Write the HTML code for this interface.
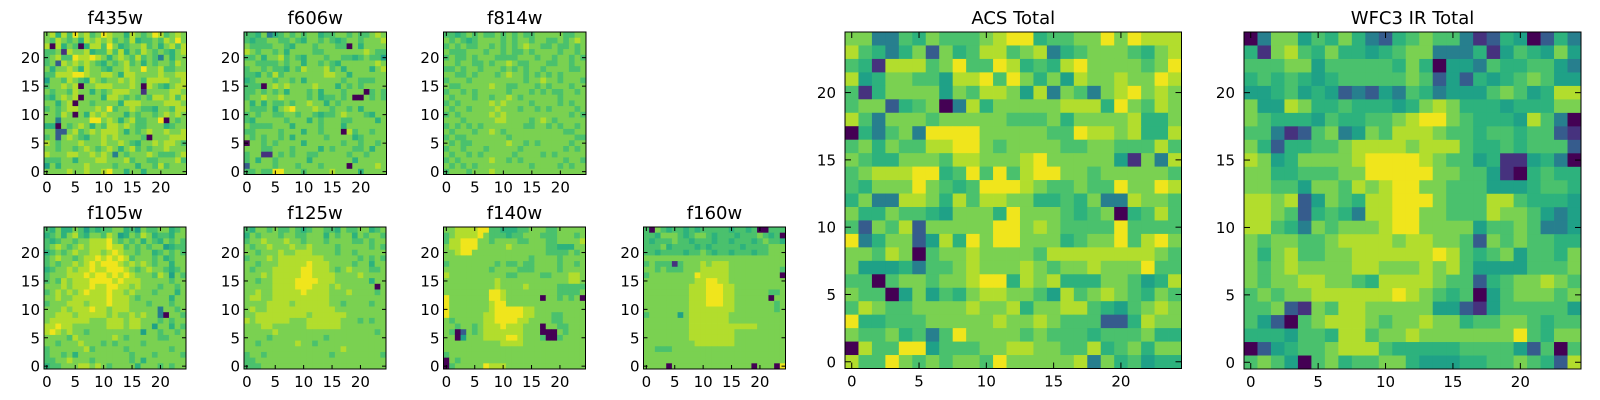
<!DOCTYPE html>
<html><head><meta charset="utf-8"><style>
html,body{margin:0;padding:0;background:#fff;width:1600px;height:400px;overflow:hidden}
svg{display:block}
text{font-family:"DejaVu Sans","Liberation Sans",sans-serif;fill:#000}
</style></head><body>
<svg id="fig" width="1600" height="400" xmlns="http://www.w3.org/2000/svg"></svg>
<script>
// Data: rows listed top (y=24) to bottom (y=0), digits 0-9 = relative intensity level
const panelTitles = ["f435w","f606w","f814w","f105w","f125w","f140w","f160w","ACS Total","WFC3 IR Total"];
const xTickLabels = [0,5,10,15,20];
const smallYTicks = [0,5,10,15,20];
const bigYTicks = [0,5,10,15,20];
const f435w = ["7858697867987758767986787","7687675878786768566768797","8085760588697567786757868","6671877856686857687676578","6786698898757876867637577","6728787876576786757677687","7577875877657787797786677","6688899877887588777787788","4776876587677878768888778","6778780778887778708765788","7677687757678887717777887","6578780777588767676887868","7757807767777588877778887","6767887778796778766577688","7768707587877757677678787","7737777799787578667790767","5507678757688787667775677","7722786787888757678778778","6727876577878777760777888","8767778777877876577878876","7767767876787578676778777","8777887787873767778766678","6667757778877786776677786","4757777877776777577686777","7777877877897757757777777"];
const f606w = ["6657356767677566776766787","6566776676577676567767778","7666677657776777660757777","8767767577776677777778766","6675778676577767766567664","7766667677577676577777787","6776766576877786757777578","6657686777777788775777777","5677767767577777767766677","6660787877778777576767777","6676767577767577767770676","6778778777767566767007676","7575766767787757677777777","7666757897778776776757777","6767766776776566787776577","6577777677757677766777757","7666677757777677757777777","6677776777577677708677677","7676776757777767777567777","0776767777577777767767767","7776677767777576777667577","6771176767766777776776777","6757767777757777777577777","2777767776777677770777787","6676699777677778777757777"];
const f814w = ["6656767667676766777776677","7676567777676776776676787","6767667767676787766766767","7666777677676676777767767","6766767776666777677677676","7767766767787667776677677","6676776777676767767777667","7766767776787767676767777","6777677777777767787767776","7667777787766777676777677","6776767777767776767667767","7677767767787677777767777","6767777787877776777767677","7677677778777677676777767","6767777787877777777777676","7776777778877776787677777","6767676777777766776767767","7677767787677777777776677","6766777777767777777777766","7676677777787767677777677","6776777677777677777776767","7677676777776777767677777","6767777787767677777776776","7676767777777776777767677","6777677787777777777777777"];
const f105w = ["6575576465667756476677567","5675786577687457687566577","6567767788897676757657676","6787678788898867676774566","5676787788789877677567676","6787767889898986777675677","6767787898999878787677577","5677878898899987678776567","6777888989989898777687476","6768788899998988877777677","7778788898899887877767767","6787878988898878777677757","7787788888898887677777577","6777888788898887776777677","7778788898878887777737767","7788878888878778787730776","7888888877788878877767677","8898877777788878877477576","8987877677777777747767767","7777687777778767777766777","7767778777676777767777777","6777777867777767777777677","6776757777777776777677776","6677877767777776757777777","5667778878767777577767677"];
const f125w = ["6577676676567766576677567","5767776776677757677576776","6778777877677767777667677","7677877787787777677777676","7767778778887777677677777","6777878888888877777767676","7767778888898887777677577","7677788888998887678777667","7778788888998888777787777","7767788889999888777777577","7777788889998887877777707","7787788888988887778777767","7887788888888887777777777","7777888878888887767777677","7877888888888888777777777","7788888888878888887777777","8788888877788888877767677","7778877777788888877777777","7777787777777777777777767","7777677777777767777777777","7767777778776777777777777","7777777777777777787777777","6776777777777776777777776","6677777777777777777777777","6667777777777777777777777"];
const f140w = ["7788889966555667776677777","6788889766656677766677767","6889997767777667776677778","7889997777787777776655577","7789977777777777776666767","7777777777777776777767777","6777777776766766777767767","7777777767777666777767777","8777777777766777766777887","7777777778777777777777887","7777777778777787777766666","7777777799877777777766667","9777777799877777707767670","9777777789977777777777777","9777777789999988777777777","9777777889999988777667777","7677777889999887777667777","7767767888988877707766777","7602767888888877700076777","7704777888899877760067777","7777777777888877777777777","7777777777777777777777777","6777777777777777777777777","0767777777777777777777777","0677777988877777777777777"];
const f160w = ["6076566565666665665600666","6657776567765666566676560","6566676656665665666567665","6667566665656666656666777","6656666566765665666566777","7777777777777777777777777","6766616777878887777777777","7767666777888887777777776","6777777779888887777777770","7777777778899887777777777","7777777788899988777777777","7777777788899988777777667","7777777788899988777777077","7777777788899988777777767","7777777788888888777777767","6777774788888887777777777","7777777788888887777777777","7777777788888888888877777","7777777788888888777777777","7777777788888888777777777","7777777778888888777777777","7766677777777777777777777","7777777777777777777777777","7777777777777777777777777","7777077777777777777077709"];
const acsTotal = ["7733657666789956677979888","8653572756886783567776578","6518886796698565897777679","8457766488969757487787798","6157777476887483763789787","6772567038577777888597687","8637776777776667577778557","0536739999777776698878558","6757668899767777667766686","7655777688777897777741738","6788899569696899776777776","6577797656999876676697798","5733887586887755657338776","7557665477759777656705686","6276827777799787666696666","9357724859799777567796897","7768706778777768888888876","7444536678777876778777966","6606776778995878555776458","7660474657887764867876576","6876677778778577886546787","9556667777787787666225877","7667563697777676665666755","0866994666778877668567577","8669767677697777783756455"];
const wfc3Total = ["0377465753256766312540253","5178657554567733351465474","6667746666657504436556643","5656545666667624254567644","4456454232436534446764588","7448755655545787555455577","7655546556678997655548630","6631267347688876656656621","7525566788887888655656662","8745777789999876645114530","7755666779999977664105655","7766477687899776664445665","8878247658899976668865554","8876256538899776668776434","8865376777899777746676334","7677667888878877627676655","7578667788888898656746657","7678777788777878644446667","7677887765888876625677876","6767788888898765604677767","6672176887777744214666664","6420678887677877566776566","5554665886778777777796577","0245667888655555666642606","6764067566775444556676528"];
const panelData = [f435w,f606w,f814w,f105w,f125w,f140w,f160w,acsTotal,wfc3Total];

const NS="http://www.w3.org/2000/svg";
const svg=document.getElementById('fig');
const viridis=["#440154","#46327e","#365c8d","#277f8e","#1fa187","#2db27d","#4ac16d","#7ad151","#b2dd2d","#f0e51c"];
const layout=[[44,32,142.5],[244,32,142.5],[443.5,32,142.5],[44,227,142],[244,227,142],[443.5,227,142],[643.5,227,142],[845,32,336.5],[1244,32,337]];
function mk(tag,attrs){const e=document.createElementNS(NS,tag);for(const k in attrs)e.setAttribute(k,attrs[k]);return e;}
panelData.forEach((rows,p)=>{
  const [L,T,S]=layout[p];const n=25;const cw=S/n;const big=p>=7;
  const g=mk('g',{});
  
  
  svg.appendChild(g);
  const xs=v=>L+(v+0.5)*cw; const ys=v=>T+S-(v+0.5)*cw;
  rows.forEach((row,ri)=>{
    const yv=n-1-ri;
    for(let xi=0;xi<n;xi++){
      const lvl=+row[xi];
      const r=mk('rect',{x:(xs(xi)-cw/2).toFixed(2),y:(ys(yv)-cw/2).toFixed(2),width:(cw+0.4).toFixed(2),height:(cw+0.4).toFixed(2),fill:viridis[lvl]});
      
      
      g.appendChild(r);
    }
  });
  const fr=mk('rect',{x:L,y:T,width:S,height:S,fill:'none',stroke:'#000','stroke-width':1});
  
  
  g.appendChild(fr);
  const fs=15, tl=big?6:4;
  xTickLabels.forEach(v=>{
    const x=xs(v);
    g.appendChild(mk('line',{x1:x,y1:T+S,x2:x,y2:T+S-tl,stroke:'#000'}));
    g.appendChild(mk('line',{x1:x,y1:T,x2:x,y2:T+tl,stroke:'#000'}));
    const t=mk('text',{x:x,y:T+S+18,'text-anchor':'middle','font-size':fs});
    t.textContent=v;
    
    
    g.appendChild(t);
  });
  (big?bigYTicks:smallYTicks).forEach(v=>{
    const y=ys(v);
    g.appendChild(mk('line',{x1:L,y1:y,x2:L+tl,y2:y,stroke:'#000'}));
    g.appendChild(mk('line',{x1:L+S,y1:y,x2:L+S-tl,y2:y,stroke:'#000'}));
    const t=mk('text',{x:L-(big?9:4),y:y+5.5,'text-anchor':'end','font-size':fs});
    t.textContent=v;
    
    
    g.appendChild(t);
  });
  const tt=mk('text',{x:L+S/2,y:T-8,'text-anchor':'middle','font-size':18});
  tt.textContent=panelTitles[p];
  
  
  g.appendChild(tt);
});
</script>
</body></html>
